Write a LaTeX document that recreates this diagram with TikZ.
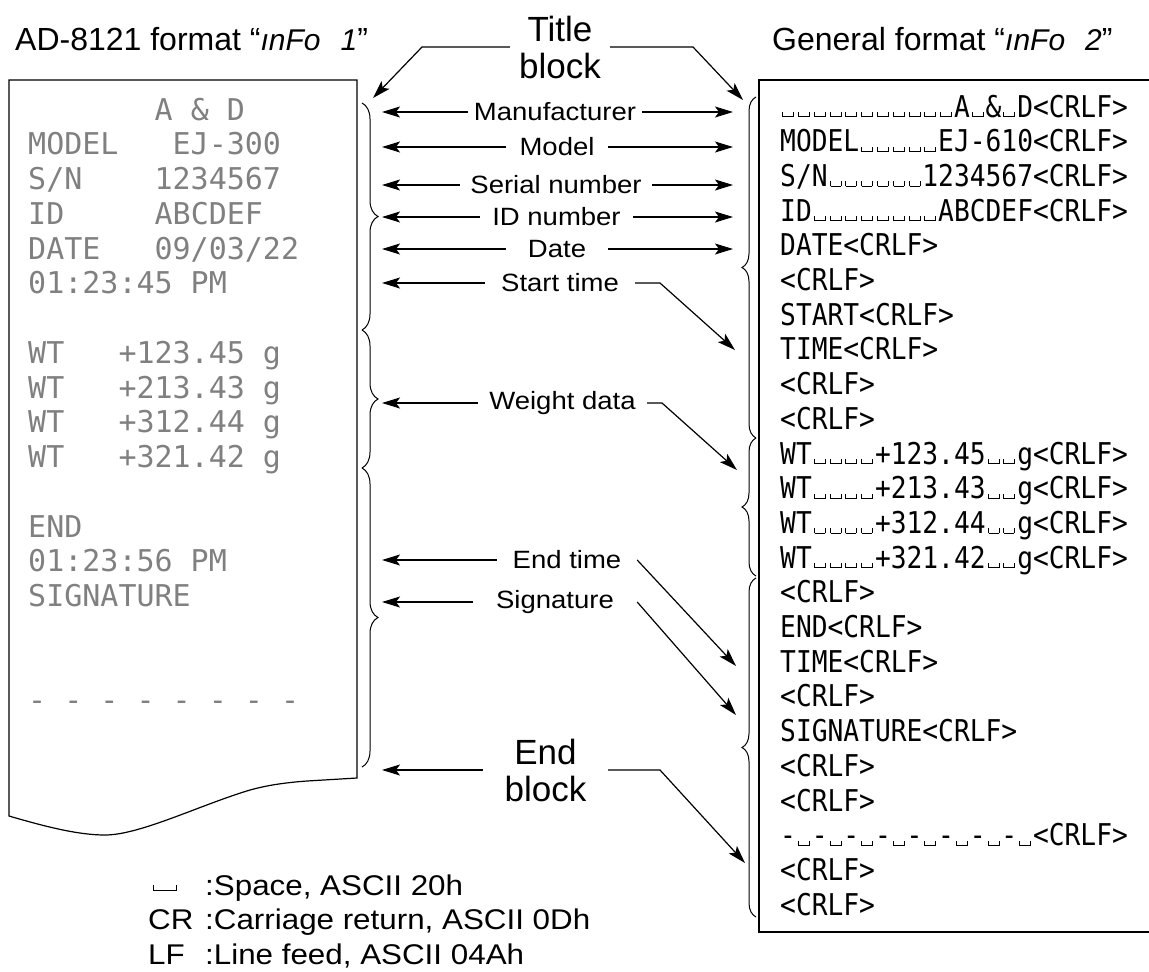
\documentclass[tikz,border=0pt]{standalone}
\usepackage{fontspec}
\setmainfont{Liberation Sans}
\newfontfamily\lblfont[FakeStretch=1.1]{Liberation Sans}
\newfontfamily\dotfont{DejaVu Sans Mono}
\newfontfamily\crfont[FakeStretch=0.875]{DejaVu Sans Mono}
\usetikzlibrary{arrows.meta,decorations.pathreplacing}
\newcommand\vspc{\hbox to \fontcharwd\font`0{\hss\vrule width 0.9pt height 5pt depth 0pt\vrule width 10pt height 0.9pt depth 0pt\vrule width 0.9pt height 5pt depth 0pt\hss}}
\newcommand\CRLFtxt{<CRLF>}
\tikzset{
  arr/.style={-{Stealth[length=18pt,width=11pt,inset=4pt]}, line width=1.2pt},
  lbl/.style={inner sep=0pt, font=\lblfont\fontsize{25}{28}\selectfont},
  big/.style={inner sep=0pt, align=center, font=\fontsize{35}{37}\selectfont},
  dot/.style={anchor=base west, inner sep=0pt, text=black!50, font=\dotfont\fontsize{30}{34}\selectfont},
  crt/.style={anchor=base west, inner sep=0pt, font=\crfont\fontsize{30}{34}\selectfont},
  leg/.style={anchor=base west, inner sep=0pt, font=\lblfont\fontsize{28.5}{30}\selectfont},
  brc/.style={decorate, line width=1pt},
}
\begin{document}
\begin{tikzpicture}[x=1pt,y=-1pt]
\useasboundingbox (0,0) rectangle (1149,972);
\clip (0,0) rectangle (1149,972);

% headings
\node[anchor=base west, inner sep=0pt, font=\fontsize{32}{36}\selectfont] (h1) at (15,50)
  {AD-8121 format “{\itshape\fontsize{30}{34}\selectfont ınFo\hspace{20pt}1}”};
\node[anchor=base west, inner sep=0pt, font=\fontsize{32}{36}\selectfont] (h2) at (772,50)
  {General format “{\itshape\fontsize{30}{34}\selectfont ınFo\hspace{20pt}2}”};

% printed paper (left)
\draw[line width=1.2pt] (9,80) -- (357,80) -- (357,778) -- (307,781)
  .. controls (280,783) and (265,786) .. (250,790)
  .. controls (200,805) and (140,835) .. (105,835)
  .. controls (80,835) and (50,828) .. (9,816) -- cycle;

\node[dot] (p0) at (28,120) {~~~~~~~A~\&~D};
\node[dot] (p1) at (28,154.75) {MODEL~~~EJ-300};
\node[dot] (p2) at (28,189.5) {S/N~~~~1234567};
\node[dot] (p3) at (28,224.25) {ID~~~~~ABCDEF};
\node[dot] (p4) at (28,259) {DATE~~~09/03/22};
\node[dot] (p5) at (28,293.75) {01:23:45~PM};
\node[dot] (p7) at (28,363.25) {WT~~~+123.45~g};
\node[dot] (p8) at (28,398) {WT~~~+213.43~g};
\node[dot] (p9) at (28,432.75) {WT~~~+312.44~g};
\node[dot] (p10) at (28,467.5) {WT~~~+321.42~g};
\node[dot] (p12) at (28,537) {END};
\node[dot] (p13) at (28,571.75) {01:23:56~PM};
\node[dot] (p14) at (28,606.5) {SIGNATURE};
\node[dot] (p17) at (28,710.75) {-~-~-~-~-~-~-~-};

% braces left
\draw[brc, decoration={brace, amplitude=16pt}] (362,103) -- (362,330);
\draw[brc, decoration={brace, amplitude=16pt}] (362,330) -- (362,468);
\draw[brc, decoration={brace, amplitude=16pt}] (362,468) -- (362,767);

% general format box (right)
\draw[line width=1.5pt] (1149,80) -- (759,80) -- (759,932) -- (1149,932);

\node[crt] (c0) at (780,117) {\vspc\vspc\vspc\vspc\vspc\vspc\vspc\vspc\vspc\vspc\vspc A\vspc\&\vspc D\CRLFtxt};
\node[crt] (c1) at (780,151.7) {MODEL\vspc\vspc\vspc\vspc\vspc EJ-610\CRLFtxt};
\node[crt] (c2) at (780,186.4) {S/N\vspc\vspc\vspc\vspc\vspc\vspc 1234567\CRLFtxt};
\node[crt] (c3) at (780,221.1) {ID\vspc\vspc\vspc\vspc\vspc\vspc\vspc\vspc ABCDEF\CRLFtxt};
\node[crt] (c4) at (780,255.8) {DATE\CRLFtxt};
\node[crt] (c5) at (780,290.5) {\CRLFtxt};
\node[crt] (c6) at (780,325.2) {START\CRLFtxt};
\node[crt] (c7) at (780,359.9) {TIME\CRLFtxt};
\node[crt] (c8) at (780,394.6) {\CRLFtxt};
\node[crt] (c9) at (780,429.3) {\CRLFtxt};
\node[crt] (c10) at (780,464) {WT\vspc\vspc\vspc\vspc +123.45\vspc\vspc g\CRLFtxt};
\node[crt] (c11) at (780,498.7) {WT\vspc\vspc\vspc\vspc +213.43\vspc\vspc g\CRLFtxt};
\node[crt] (c12) at (780,533.4) {WT\vspc\vspc\vspc\vspc +312.44\vspc\vspc g\CRLFtxt};
\node[crt] (c13) at (780,568.1) {WT\vspc\vspc\vspc\vspc +321.42\vspc\vspc g\CRLFtxt};
\node[crt] (c14) at (780,602.8) {\CRLFtxt};
\node[crt] (c15) at (780,637.5) {END\CRLFtxt};
\node[crt] (c16) at (780,672.2) {TIME\CRLFtxt};
\node[crt] (c17) at (780,706.9) {\CRLFtxt};
\node[crt] (c18) at (780,741.6) {SIGNATURE\CRLFtxt};
\node[crt] (c19) at (780,776.3) {\CRLFtxt};
\node[crt] (c20) at (780,811) {\CRLFtxt};
\node[crt] (c21) at (780,845.7) {-\vspc-\vspc-\vspc-\vspc-\vspc-\vspc-\vspc-\vspc\CRLFtxt};
\node[crt] (c22) at (780,880.4) {\CRLFtxt};
\node[crt] (c23) at (780,915.1) {\CRLFtxt};

% braces right
\draw[brc, decoration={brace, amplitude=14pt}] (756,438) -- (756,97);
\draw[brc, decoration={brace, amplitude=14pt}] (756,576) -- (756,438);
\draw[brc, decoration={brace, amplitude=14pt}] (756,917) -- (756,578);

% labels
\node[lbl, minimum width=174pt] (man) at (555,112) {Manufacturer};
\node[lbl, minimum width=102pt] (mod) at (557,147) {Model};
\node[lbl, minimum width=192pt] (ser) at (556,185) {Serial number};
\node[lbl, minimum width=153pt] (idn) at (556.5,217) {ID number};
\node[lbl, minimum width=102pt] (dat) at (557,249) {Date};
\node[lbl, minimum width=150pt] (stt) at (560,283) {Start time};
\node[lbl, minimum width=169pt] (wtd) at (562.5,403) {Weight data};
\node[lbl, minimum width=140pt] (ent) at (567,560) {End time};
\node[lbl, minimum width=164pt] (sig) at (555,602) {Signature};
\node[big, minimum width=100pt] (tb) at (560,47) {Title\\block};
\node[big, minimum width=125pt] (eb) at (545.5,770) {End\\block};

% arrow targets and bends
\coordinate (lm) at (382,112);  \coordinate (rm) at (733,112);
\coordinate (lmo) at (382,147); \coordinate (rmo) at (733,147);
\coordinate (ls) at (382,185);  \coordinate (rs) at (733,185);
\coordinate (li) at (382,217);  \coordinate (ri) at (733,217);
\coordinate (ld) at (382,249);  \coordinate (rd) at (733,249);
\coordinate (lst) at (382,283); \coordinate (bst) at (660,283); \coordinate (rst) at (735,350);
\coordinate (lw) at (382,403);  \coordinate (bw) at (662,403);  \coordinate (rw) at (737,470);
\coordinate (let) at (382,560); \coordinate (ret) at (736,666);
\coordinate (lsg) at (382,602); \coordinate (rsg) at (736,715);
\coordinate (leb) at (382,770); \coordinate (beb) at (660,770); \coordinate (reb) at (745,863);
\coordinate (btl) at (422,47);  \coordinate (tl) at (373,98);
\coordinate (btr) at (693,47);  \coordinate (tr) at (743,100);

% arrows
\draw[arr] (man.west) -- (lm); \draw[arr] (man.east) -- (rm);
\draw[arr] (mod.west) -- (lmo); \draw[arr] (mod.east) -- (rmo);
\draw[arr] (ser.west) -- (ls); \draw[arr] (ser.east) -- (rs);
\draw[arr] (idn.west) -- (li); \draw[arr] (idn.east) -- (ri);
\draw[arr] (dat.west) -- (ld); \draw[arr] (dat.east) -- (rd);
\draw[arr] (stt.west) -- (lst); \draw[arr] (stt.east) -- (bst) -- (rst);
\draw[arr] (wtd.west) -- (lw); \draw[arr] (wtd.east) -- (bw) -- (rw);
\draw[arr] (ent.west) -- (let); \draw[arr] (ent.east) -- (ret);
\draw[arr] (sig.west) -- (lsg); \draw[arr] (sig.east) -- (rsg);
\draw[arr] (eb.west) -- (leb); \draw[arr] (eb.east) -- (beb) -- (reb);
\draw[arr] (tb.west) -- (btl) -- (tl);
\draw[arr] (tb.east) -- (btr) -- (tr);

% legend
\node[anchor=base, inner sep=0pt] (lsp) at (165,891)
  {\vrule width 1pt height 6pt depth 0pt\vrule width 22pt height 1pt depth 0pt\vrule width 1pt height 6pt depth 0pt};
\node[leg] (l1) at (205,895) {:Space, ASCII 20h};
\node[leg] (l2a) at (148,929.5) {CR};
\node[leg] (l2) at (205,929.5) {:Carriage return, ASCII 0Dh};
\node[leg] (l3a) at (148,964) {LF};
\node[leg] (l3) at (205,964) {:Line feed, ASCII 04Ah};
\end{tikzpicture}
\end{document}
